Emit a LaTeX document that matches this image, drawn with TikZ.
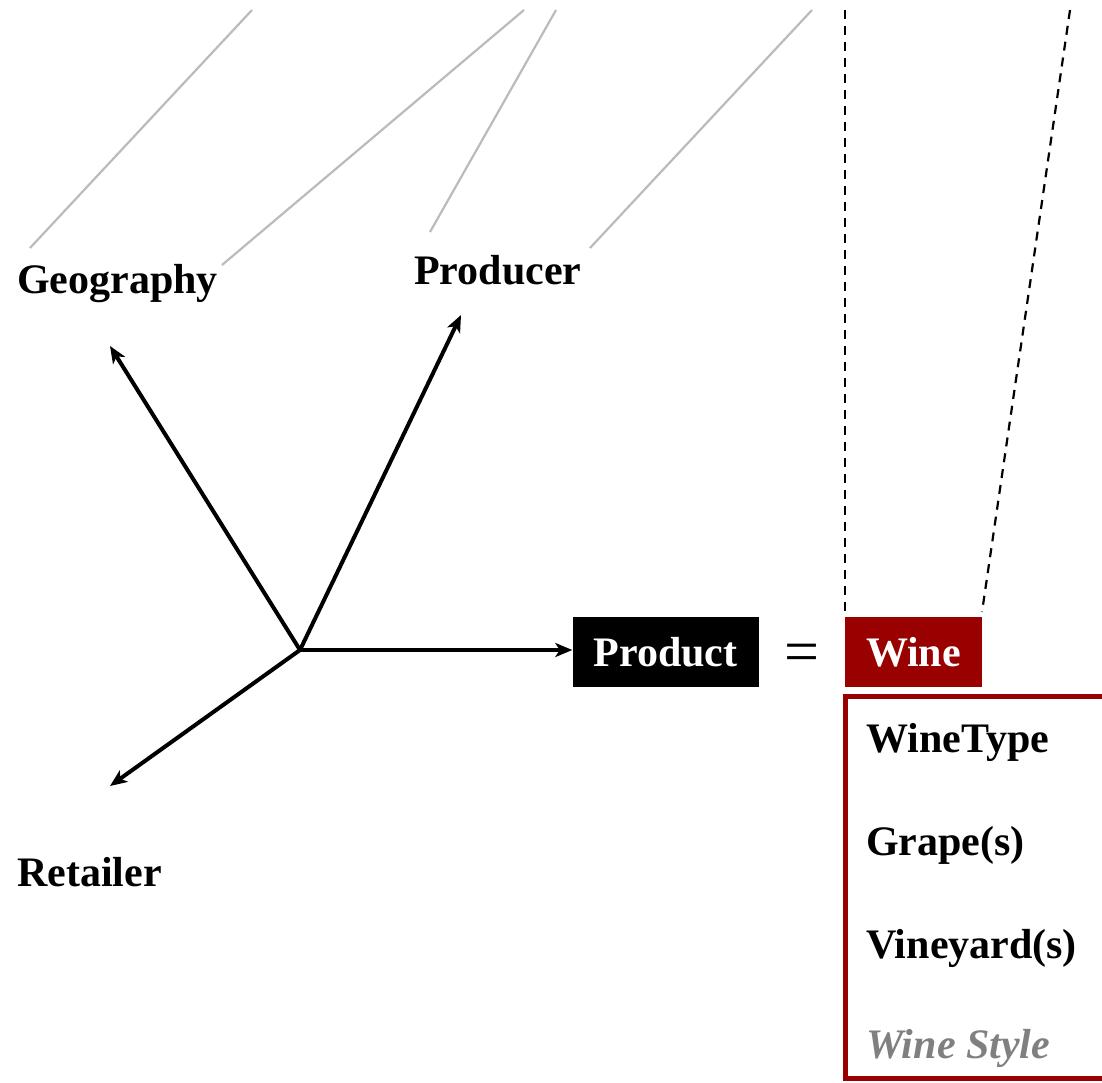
\documentclass[tikz,border=0pt]{standalone}
\usepackage{fontspec}
\setmainfont{Liberation Serif}
\usetikzlibrary{arrows.meta}
\definecolor{winered}{HTML}{990000}
\definecolor{lightline}{HTML}{BBBBBB}
\definecolor{stylegray}{HTML}{808080}
\begin{document}
\begin{tikzpicture}[x=1pt,y=-1pt,
  guide/.style={draw=lightline,line width=2.2pt},
  dashguide/.style={draw=black,line width=2.2pt,dash pattern=on 9pt off 7pt},
  dimarrow/.style={draw=black,line width=4pt,-{Stealth[length=17pt,width=14pt,inset=4.5pt]}},
  lbl/.style={font=\fontsize{42}{48}\selectfont\bfseries,anchor=base west,inner sep=0pt},
  item/.style={font=\fontsize{42}{48}\selectfont\bfseries,anchor=base west,inner sep=0pt},
]
\useasboundingbox (0,0) rectangle (1102,1082);
% gray guide lines
\coordinate (g1a) at (252,10); \coordinate (g1b) at (30,248);
\coordinate (g2a) at (524,10); \coordinate (g2b) at (222,265);
\coordinate (g3a) at (556,10); \coordinate (g3b) at (430,232);
\coordinate (g4a) at (812,10); \coordinate (g4b) at (590,248);
\draw[guide] (g1a) -- (g1b);
\draw[guide] (g2a) -- (g2b);
\draw[guide] (g3a) -- (g3b);
\draw[guide] (g4a) -- (g4b);
% dashed lines
\coordinate (d1a) at (845,10); \coordinate (d1b) at (845,615);
\coordinate (d2a) at (1070,10); \coordinate (d2b) at (982,612);
\draw[dashguide] (d1a) -- (d1b);
\draw[dashguide] (d2a) -- (d2b);
% labels
\node[lbl] (geo) at (17,293) {Geography};
\node[lbl] (prod) at (414,284) {Producer};
\node[lbl] (ret) at (17,886) {Retailer};
% product box
\node[fill=black,text=white,font=\fontsize{42}{48}\selectfont\bfseries,
  minimum width=186pt,minimum height=70pt,inner sep=0pt] (product) at (665.5,652) {Product};
\node[font=\fontsize{62}{66}\selectfont,inner sep=0pt] (eq) at (802,658) {=};
\node[fill=winered,text=white,font=\fontsize{42}{48}\selectfont\bfseries,
  minimum width=137pt,minimum height=70pt,inner sep=0pt] (wine) at (913.5,652) {Wine};
% center and arrows
\coordinate (c) at (300,650);
\coordinate (tgeo) at (110,346);
\coordinate (tprod) at (461,315);
\coordinate (tret) at (110,786);
\draw[dimarrow] (c) -- (tgeo);
\draw[dimarrow] (c) -- (tprod);
\draw[dimarrow] (c) -- (c -| product.west);
\draw[dimarrow] (c) -- (tret);
% attribute frame
\draw[draw=winered,line width=5pt] (845.5,696.5) rectangle (1115,1078.5);
\node[item] (wt) at (866,752) {WineType};
\node[item] (gr) at (866,855) {Grape(s)};
\node[item] (vy) at (866,958) {Vineyard(s)};
\node[item,text=stylegray,font=\fontsize{42}{48}\selectfont\bfseries\itshape] (ws) at (866,1058) {Wine Style};
\end{tikzpicture}
\end{document}
